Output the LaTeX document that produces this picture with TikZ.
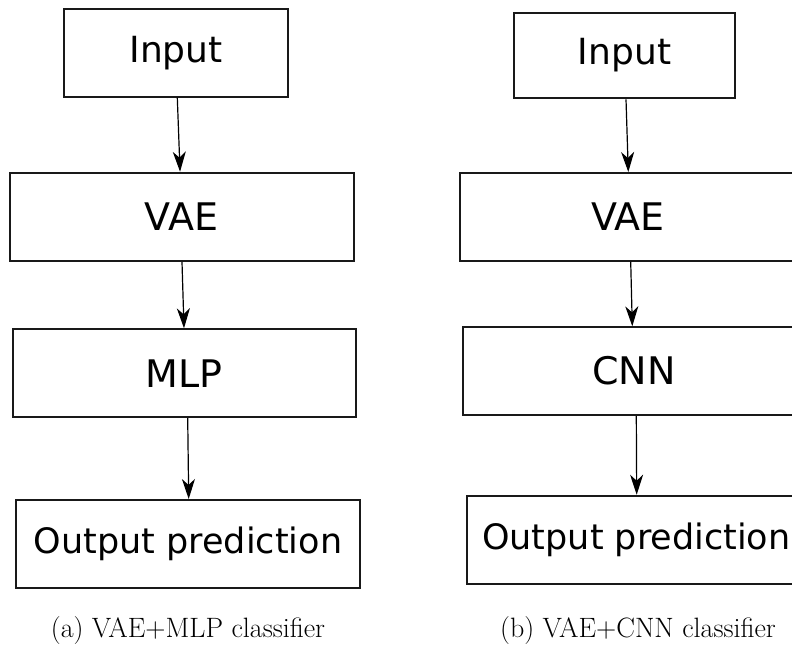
\documentclass[tikz,border=0pt]{standalone}
\usepackage{fontspec}
\newfontfamily\dv{DejaVu Sans}
\usetikzlibrary{arrows.meta}
\begin{document}
\begin{tikzpicture}[x=1pt,y=-1pt,
  box/.style={draw=black!90, line width=2pt, rectangle, inner sep=0pt},
  big/.style={font=\dv\fontsize{38}{42}\selectfont},
  mid/.style={font=\dv\fontsize{36}{40}\selectfont},
  sml/.style={font=\dv\fontsize{35}{40}\selectfont},
  arr/.style={line width=1.2pt, -{Stealth[length=20pt,width=13pt,inset=6pt]}},
  captext/.style={font=\fontsize{28}{32}\selectfont}]
\useasboundingbox (0,0) rectangle (792,647);
\clip (0,0) rectangle (792,647);
% left
\node[box, mid, minimum width=224pt, minimum height=87.4pt] (in1) at (176,53) {Input};
\node[box, big, minimum width=344.5pt, minimum height=88.3pt] (vae1) at (181.75,216.85) {VAE};
\node[box, big, minimum width=343.3pt, minimum height=87.7pt] (mlp1) at (184.35,373.15) {MLP};
\node[box, sml, minimum width=344pt, minimum height=87.7pt] (out1) at (188,543.85) {Output prediction};
\draw[arr] ([xshift=1.3pt]in1.south) -- ([xshift=-1.7pt]vae1.north);
\draw[arr] ([xshift=0.25pt]vae1.south) -- ([xshift=-0.35pt]mlp1.north);
\draw[arr] ([xshift=3.35pt]mlp1.south) -- ([xshift=0.7pt]out1.north);
\node[captext] (capa) at (188,631) {(a) VAE+MLP classifier};
% right
\node[box, mid, minimum width=221pt, minimum height=85.6pt] (in2) at (624.5,55.5) {Input};
\node[box, big, minimum width=336pt, minimum height=87.7pt] (vae2) at (628,216.85) {VAE};
\node[box, big, minimum width=342.3pt, minimum height=87.7pt] (cnn2) at (633.85,371.15) {CNN};
\node[box, sml, minimum width=339.3pt, minimum height=88.3pt] (out2) at (636.35,539.85) {Output prediction};
\draw[arr] ([xshift=1.5pt]in2.south) -- ([xshift=0.3pt]vae2.north);
\draw[arr] ([xshift=2.7pt]vae2.south) -- ([xshift=-1.55pt]cnn2.north);
\draw[arr] ([xshift=2.45pt]cnn2.south) -- ([xshift=0.35pt]out2.north);
\node[captext] (capb) at (638,631) {(b) VAE+CNN classifier};
\end{tikzpicture}
\end{document}
